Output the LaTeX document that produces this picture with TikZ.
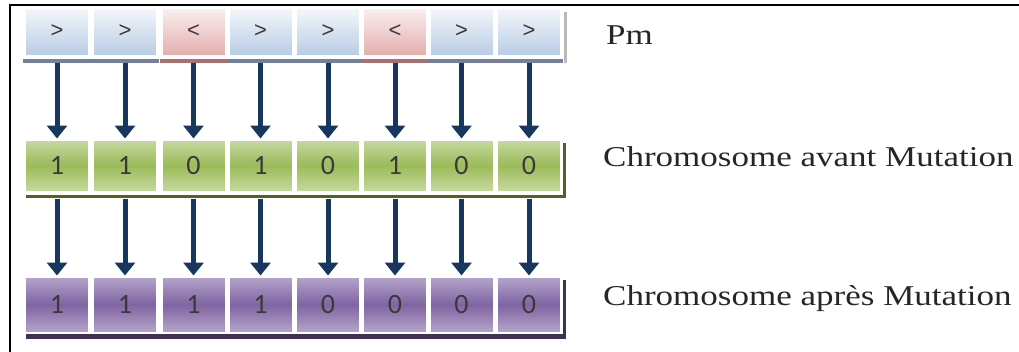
\documentclass[tikz,border=0pt]{standalone}
\usepackage{fontspec}
\setmainfont{Carlito}
\newfontfamily\symfont{Liberation Sans}
\newfontfamily\lblfont[FakeStretch=1.22]{Liberation Serif}
\usetikzlibrary{arrows.meta,shadings}

\definecolor{pmtop}{HTML}{F4F7FB}
\definecolor{pmbot}{HTML}{B9CDE5}
\definecolor{pktop}{HTML}{FBEFEF}
\definecolor{pkbot}{HTML}{E3AFAE}
\definecolor{pmline}{HTML}{747F98}
\definecolor{pkline}{HTML}{A8716F}
\definecolor{grlight}{HTML}{C6D9A0}
\definecolor{grmid}{HTML}{9BBB59}
\definecolor{grline}{HTML}{4F6228}
\definecolor{pulight}{HTML}{B4A5CB}
\definecolor{pumid}{HTML}{8064A2}
\definecolor{puline}{HTML}{3F3151}
\definecolor{arrowblue}{HTML}{17375E}
\definecolor{bittext}{HTML}{3A3A3A}
\definecolor{lbltext}{HTML}{262626}

\tikzset{
  cell/.style={draw=white, line width=1pt, inner sep=0pt, minimum width=63pt,
               text=bittext},
  pmcell/.style={cell, minimum height=47pt,
                 font=\symfont\fontsize{22}{24}\selectfont},
  blucell/.style={top color=pmtop, bottom color=pmbot},
  pnkcell/.style={top color=pktop, bottom color=pkbot},
  grcell/.style={cell, minimum height=51pt, font=\fontsize{28}{30}\selectfont,
                 top color=grlight, bottom color=grlight, middle color=grmid},
  pucell/.style={cell, minimum height=55pt, font=\fontsize{28}{30}\selectfont,
                 top color=pulight, bottom color=pulight, middle color=pumid},
  blubar/.style={fill=pmline},
  pnkbar/.style={fill=pkline},
  arr/.style={draw=arrowblue, line width=5pt,
              -{Triangle[width=20pt,length=13pt]}, shorten >=1pt},
  lbl/.style={inner sep=0pt, anchor=base west, text=lbltext,
              font=\lblfont\fontsize{28.7}{30}\selectfont},
  frame/.style={draw=black, line width=2pt}
}

\begin{document}
\begin{tikzpicture}[x=1pt,y=-1pt]
\useasboundingbox (0,0) rectangle (1019,351);
\clip (0,0) rectangle (1019,351);

% outer frame
\draw[frame] (1030,4.5) -- (10,4.5) -- (10,360);

% probability row
\fill[gray!55] (564,12) rectangle (567,63);
\foreach \i/\x/\s/\k in {1/57/>/blu,2/125/>/blu,3/193.5/</pnk,4/260.5/>/blu,
                         5/328/>/blu,6/395/</pnk,7/461.5/>/blu,8/529/>/blu}{
  \fill[\k bar] (\x-34,59) rectangle (\x+34,63);
  \node[pmcell, \k cell] (p\i) at (\x,31.5) {\s};
}

% chromosome before mutation
\fill[grline] (562.5,143) rectangle (566,198);
\fill[grline] (26,194.5) rectangle (566,198);
\foreach \i/\x/\b in {1/57/1,2/125/1,3/193.5/0,4/260.5/1,
                      5/328/0,6/395/1,7/461.5/0,8/529/0}{
  \node[grcell] (g\i) at (\x,165.5) {\b};
}

% chromosome after mutation
\fill[puline] (562.5,280) rectangle (566,339);
\fill[puline] (26,334) rectangle (566,339);
\foreach \i/\x/\b in {1/57/1,2/125/1,3/193.5/1,4/260.5/1,
                      5/328/0,6/395/0,7/461.5/0,8/529/0}{
  \node[pucell] (m\i) at (\x,304.5) {\b};
}

% arrows between the rows
\foreach \i in {1,...,8}{
  \draw[arr] ([yshift=-7pt]p\i.south) -- (g\i.north);
  \draw[arr] ([yshift=-7pt]g\i.south) -- (m\i.north);
}

% row labels
\node[lbl] (tpm) at (606,44) {Pm};
\node[lbl] (tav) at (603,166) {Chromosome avant Mutation};
\node[lbl] (tap) at (603,305) {Chromosome après Mutation};
\end{tikzpicture}
\end{document}
